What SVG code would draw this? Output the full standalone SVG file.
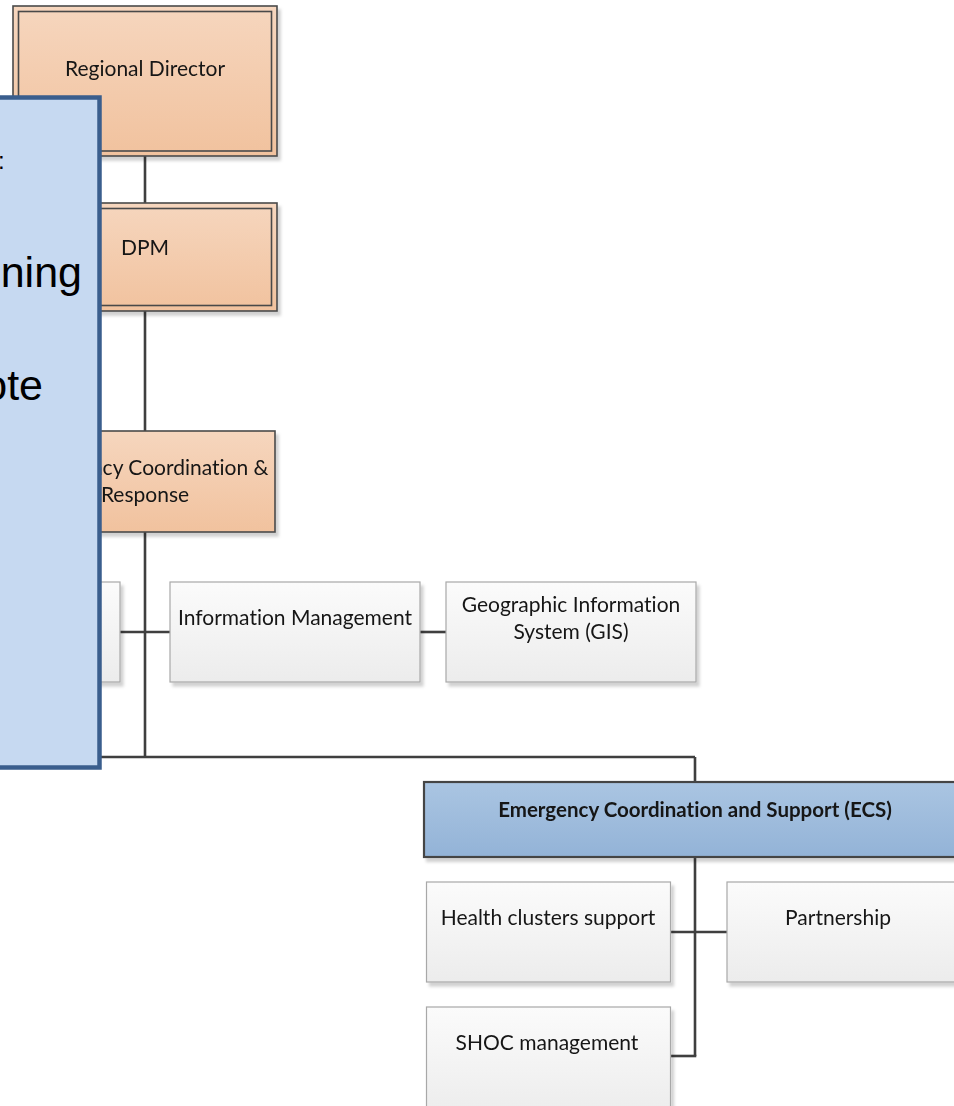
<svg xmlns="http://www.w3.org/2000/svg" width="954" height="1106" viewBox="0 0 954 1106">
  <defs>
    <linearGradient id="gOrange" x1="0" y1="0" x2="0" y2="1">
      <stop offset="0" stop-color="#f6d6be"/>
      <stop offset="1" stop-color="#f1c29e"/>
    </linearGradient>
    <linearGradient id="gGray" x1="0" y1="0" x2="0" y2="1">
      <stop offset="0" stop-color="#fbfbfb"/>
      <stop offset="1" stop-color="#ececec"/>
    </linearGradient>
    <linearGradient id="gBlue" x1="0" y1="0" x2="0" y2="1">
      <stop offset="0" stop-color="#aac5e2"/>
      <stop offset="1" stop-color="#93b3d7"/>
    </linearGradient>
    <filter id="shadow" x="-5%" y="-5%" width="115%" height="125%">
      <feDropShadow dx="3" dy="4" stdDeviation="1.5" flood-color="#000" flood-opacity="0.18"/>
    </filter>
  </defs>
  <style>
    .orange { fill: url(#gOrange); stroke: #4a4a4a; stroke-width: 1.6; }
    .inner { fill: none; stroke: #4a4a4a; stroke-width: 1.6; }
    .gray { fill: url(#gGray); stroke: #a8a8a8; stroke-width: 1.2; }
    .blue { fill: url(#gBlue); stroke: #454545; stroke-width: 2.2; }
    .lbl { font-family: Lato, "Liberation Sans", sans-serif; font-size: 21px; fill: #161616; text-anchor: middle; font-variant-ligatures: none; }
    .bold { font-weight: bold; font-size: 20.5px; }
    .conn { stroke: #3f3f3f; stroke-width: 2.6; fill: none; }
    .panel { fill: #c6d9f1; stroke: #3a5e8d; stroke-width: 4.5; }
    .ptxt { font-family: "Liberation Sans", Arial, sans-serif; font-size: 43px; fill: #000; }
  </style>

  <g id="connectors">
    <line class="conn" x1="145" y1="156" x2="145" y2="203"/>
    <line class="conn" x1="145" y1="311" x2="145" y2="431"/>
    <line class="conn" x1="145" y1="532" x2="145" y2="757"/>
    <line class="conn" x1="40" y1="757" x2="695" y2="757"/>
    <line class="conn" x1="695" y1="757" x2="695" y2="782"/>
    <line class="conn" x1="120" y1="632" x2="170" y2="632"/>
    <line class="conn" x1="420" y1="632" x2="446" y2="632"/>
    <line class="conn" x1="695" y1="857" x2="695" y2="1056"/>
    <line class="conn" x1="670" y1="932" x2="727" y2="932"/>
    <line class="conn" x1="670" y1="1056" x2="696.3" y2="1056"/>
  </g>

  <g id="regional-director" filter="url(#shadow)">
    <rect class="orange" x="13" y="6" width="264" height="150"/>
    <rect class="inner" x="18.5" y="11.5" width="253" height="139.5"/>
    <text class="lbl" x="145" y="76">Regional Director</text>
  </g>

  <g id="dpm" filter="url(#shadow)">
    <rect class="orange" x="13" y="203" width="264" height="108"/>
    <rect class="inner" x="18.5" y="208.5" width="253" height="97"/>
    <text class="lbl" x="145" y="255">DPM</text>
  </g>

  <g id="ecr" filter="url(#shadow)">
    <rect class="orange" x="13" y="431" width="262" height="101"/>
    <text class="lbl" x="145" y="475">Emergency Coordination &amp;</text>
    <text class="lbl" x="145" y="502">Response</text>
  </g>

  <g id="hidden-left" filter="url(#shadow)">
    <rect class="gray" x="-130" y="582" width="250" height="100"/>
  </g>

  <g id="info-management" filter="url(#shadow)">
    <rect class="gray" x="170" y="582" width="250" height="100"/>
    <text class="lbl" x="295" y="625">Information Management</text>
  </g>

  <g id="gis" filter="url(#shadow)">
    <rect class="gray" x="446" y="582" width="250" height="100"/>
    <text class="lbl" x="571" y="612">Geographic Information</text>
    <text class="lbl" x="571" y="639">System (GIS)</text>
  </g>

  <g id="ecs" filter="url(#shadow)">
    <rect class="blue" x="424" y="782" width="560" height="75"/>
    <text class="lbl bold" x="695" y="817">Emergency Coordination and Support (ECS)</text>
  </g>

  <g id="health-clusters" filter="url(#shadow)">
    <rect class="gray" x="426.5" y="882" width="244" height="100"/>
    <text class="lbl" x="548" y="925">Health clusters support</text>
  </g>

  <g id="partnership" filter="url(#shadow)">
    <rect class="gray" x="727" y="882" width="260" height="100"/>
    <text class="lbl" x="838" y="925">Partnership</text>
  </g>

  <g id="shoc" filter="url(#shadow)">
    <rect class="gray" x="426.5" y="1007" width="244" height="110"/>
    <text class="lbl" x="547" y="1050">SHOC management</text>
  </g>

  <g id="note-panel">
    <rect class="panel" x="-20" y="97.5" width="119.5" height="670"/>
    <text class="ptxt" x="-2" y="169" style="font-size:24px">:</text>
    <text class="ptxt" x="82" y="287" text-anchor="end">ning</text>
    <text class="ptxt" x="43" y="400" text-anchor="end">ote</text>
  </g>
</svg>
